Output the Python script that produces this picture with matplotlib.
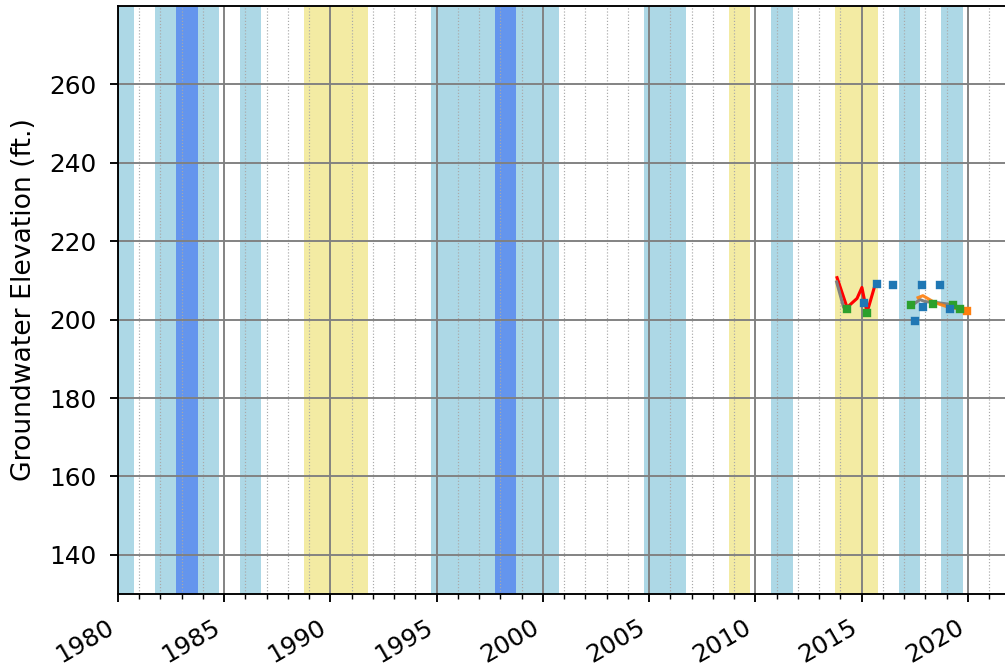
import numpy as np
import matplotlib
matplotlib.use("Agg")
import matplotlib.pyplot as plt

# Water-year classification bands (water year N spans Oct N-1 .. Sep N)
wet_years = [1983, 1998]
above_normal_years = [1980, 1982, 1984, 1986, 1995, 1996, 1997, 1999, 2000,
                      2005, 2006, 2011, 2017, 2019]
dry_years = [1989, 1990, 1991, 2009, 2014, 2015]

# Groundwater elevation series (decimal years, ft.)
red_years = [2013.84, 2014.31, 2014.78, 2015.01, 2015.25, 2015.62]
red_vals = [210.7, 203.1, 205.4, 208.2, 201.8, 208.7]

grey_years = [2013.82, 2014.14, 2015.8, 2017.41, 2017.74, 2017.98, 2018.59, 2019.25, 2020.0]
grey_vals = [209.6, 203.3, np.nan, 203.8, 205.1, 204.6, 204.3, 203.8, 202.0]

orange_years = [2017.65, 2017.88, 2018.45, 2019.01, 2019.95]
orange_vals = [205.6, 206.1, 204.3, 203.3, 202.3]

green_years = [2014.31, 2015.25, 2017.32, 2018.35, 2019.29, 2019.62]
green_vals = [202.6, 201.8, 203.6, 204.1, 203.8, 202.6]

blue_years = [2015.11, 2015.72, 2016.47, 2017.51, 2017.84, 2017.88, 2018.68, 2019.15]
blue_vals = [204.3, 209.2, 208.9, 199.7, 208.9, 203.1, 208.9, 202.6]

y_ticks = [140, 160, 180, 200, 220, 240, 260]
x_major = [1980, 1985, 1990, 1995, 2000, 2005, 2010, 2015, 2020]

DPI = 170
fig = plt.figure(figsize=(1005 / DPI, 667 / DPI), dpi=DPI)
ax = fig.add_axes([118 / 1005, 1 - 594 / 667, 0.888, (594 - 6) / 667])

for wy in above_normal_years:
    ax.axvspan(wy - 0.25, wy + 0.75, color="lightblue", lw=0, zorder=0.5)
for wy in wet_years:
    ax.axvspan(wy - 0.25, wy + 0.75, color="cornflowerblue", lw=0, zorder=0.5)
for wy in dry_years:
    ax.axvspan(wy - 0.25, wy + 0.75, color="khaki", alpha=0.8, lw=0, zorder=0.5)

ax.plot(red_years, red_vals, color="red", lw=1.3, zorder=3)
ax.plot(grey_years, grey_vals, color="grey", lw=1.3, zorder=3)
ax.plot(orange_years, orange_vals, color="tab:orange", lw=1.3, alpha=0.9, zorder=3)
ax.plot(orange_years[-1:], orange_vals[-1:], color="tab:orange", ls="none",
        marker="s", ms=2.5, zorder=3)
ax.plot(green_years, green_vals, color="tab:green", ls="none", marker="s", ms=2.5, zorder=4)
ax.plot(blue_years, blue_vals, color="tab:blue", ls="none", marker="s", ms=2.5, zorder=4)

ax.set_xlim(1980, 2022)
ax.set_ylim(130, 280)
ax.set_yticks(y_ticks)
ax.set_xticks(x_major)
ax.set_xticklabels([str(y) for y in x_major], rotation=30, ha="right")
ax.set_xticks(np.arange(1980, 2023, 1), minor=True)
ax.tick_params(which="major", labelsize=10.5, pad=5.5)

ax.grid(which="major", color="grey", lw=0.8, zorder=1.5)
ax.grid(which="minor", axis="x", color="darkgrey", lw=0.5, ls=":")
ax.set_ylabel("Groundwater Elevation (ft.)", fontsize=11.3, labelpad=5.5)

fig.savefig("out.png", dpi=DPI)
